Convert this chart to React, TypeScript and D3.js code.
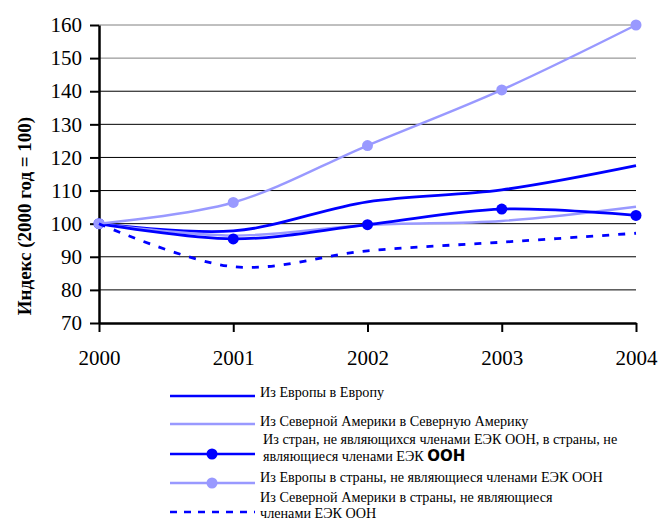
import { useEffect, useRef } from "react";
import * as d3 from "d3";

const years = [2000, 2001, 2002, 2003, 2004];
const yTicks = [70, 80, 90, 100, 110, 120, 130, 140, 150, 160];

const europeToEurope = [100, 97.8, 106.6, 110.2, 117.5];
const naToNa = [100, 96.4, 99.6, 100.8, 105.1];
const nonToNon = [100, 95.4, 99.7, 104.4, 102.5];
const europeToNon = [100, 106.4, 123.6, 140.4, 160];
const naToNon = [100, 87.0, 91.8, 94.4, 97.1];

const DARK = "#0000FF";
const LIGHT = "#9999FF";
const SERIF = "'Liberation Serif', 'DejaVu Serif', 'Times New Roman', Times, serif";

interface Series {
    values: number[];
    color: string;
    markers: boolean;
    dashed: boolean;
    legend: string[];
}

const series: Series[] = [
    { values: europeToEurope, color: DARK, markers: false, dashed: false, legend: ["Из Европы в Европу"] },
    { values: naToNa, color: LIGHT, markers: false, dashed: false, legend: ["Из Северной Америки в Северную Америку"] },
    {
        values: nonToNon,
        color: DARK,
        markers: true,
        dashed: false,
        legend: ["Из стран, не являющихся членами ЕЭК ООН, в страны, не", "являющиеся членами ЕЭК ООН"],
    },
    { values: europeToNon, color: LIGHT, markers: true, dashed: false, legend: ["Из Европы в страны, не являющиеся членами ЕЭК ООН"] },
    {
        values: naToNon,
        color: DARK,
        markers: false,
        dashed: true,
        legend: ["Из Северной Америки в страны, не являющиеся", "членами ЕЭК ООН"],
    },
];

const App = () => {
    const ref = useRef<SVGSVGElement>(null);

    useEffect(() => {
        const svg = d3.select(ref.current);
        svg.selectAll("*").remove();

        const x = d3.scalePoint<number>().domain(years).range([99, 636]);
        const y = d3.scaleLinear().domain([70, 160]).range([323, 25]);

        // gridlines
        svg.append("g")
            .selectAll("line")
            .data(yTicks.filter((t) => t > 70))
            .enter()
            .append("line")
            .attr("x1", 99)
            .attr("x2", 636)
            .attr("y1", (d) => y(d))
            .attr("y2", (d) => y(d))
            .attr("stroke", (d) => (d >= 150 ? "#808080" : "#000"))
            .attr("stroke-width", 1);

        // y axis
        const yAxis = svg
            .append("g")
            .attr("transform", "translate(99,0)")
            .call(d3.axisLeft(y).tickValues(yTicks).tickSize(9).tickSizeOuter(0).tickPadding(8));
        yAxis.attr("font-family", null).attr("font-size", 21);
        yAxis.select(".domain").attr("stroke", "#000").attr("stroke-width", 2.5);
        yAxis.selectAll(".tick line").attr("stroke", "#000").attr("stroke-width", 2);
        yAxis.selectAll(".tick text").style("font-family", SERIF).attr("fill", "#000");

        // x axis
        const xAxis = svg
            .append("g")
            .attr("transform", "translate(0,323)")
            .call(d3.axisBottom(x).tickSize(9).tickSizeOuter(0));
        xAxis.attr("font-family", null).attr("font-size", 21);
        xAxis.select(".domain").attr("stroke", "#000").attr("stroke-width", 2.5);
        xAxis.selectAll(".tick line").attr("stroke", "#000").attr("stroke-width", 2);
        xAxis
            .selectAll(".tick text")
            .style("font-family", SERIF)
            .attr("fill", "#000")
            .attr("y", 42)
            .attr("dy", null);

        // y title
        svg.append("text")
            .attr("transform", "translate(31,216) rotate(-90)")
            .attr("text-anchor", "middle")
            .style("font-family", SERIF)
            .attr("font-weight", "bold")
            .attr("font-size", 19)
            .text("Индекс (2000 год = 100)");

        const line = d3
            .line<number>()
            .x((_, i) => x(years[i]) as number)
            .y((d) => y(d))
            .curve(d3.curveCatmullRom.alpha(0.5));

        series.forEach((s) => {
            svg.append("path")
                .attr("d", line(s.values))
                .attr("fill", "none")
                .attr("stroke", s.color)
                .attr("stroke-width", s.color === DARK ? 2.8 : 2.4)
                .attr("stroke-dasharray", s.dashed ? "7,9" : null);
            if (s.markers) {
                svg.append("g")
                    .selectAll("circle")
                    .data(s.values)
                    .enter()
                    .append("circle")
                    .attr("cx", (_, i) => x(years[i]) as number)
                    .attr("cy", (d) => y(d))
                    .attr("r", 5.5)
                    .attr("fill", s.color);
            }
        });

        // legend
        const legendY = [396, 424, 454, 483, 512];
        const textY = [[397], [426], [444, 461], [482], [502, 518]];
        series.forEach((s, i) => {
            const g = svg.append("g");
            g.append("line")
                .attr("x1", 170)
                .attr("x2", 255)
                .attr("y1", legendY[i])
                .attr("y2", legendY[i])
                .attr("stroke", s.color)
                .attr("stroke-width", 2.5)
                .attr("stroke-dasharray", s.dashed ? "7,7" : null);
            if (s.markers) {
                g.append("circle").attr("cx", 212).attr("cy", legendY[i]).attr("r", 5.5).attr("fill", s.color);
            }
            s.legend.forEach((t, j) => {
                const txt = g
                    .append("text")
                    .attr("x", i === 2 ? 263 : 260)
                    .attr("y", textY[i][j])
                    .style("font-family", SERIF)
                    .attr("font-size", 14.2)
                    .attr("fill", "#000");
                if (i === 2 && j === 1) {
                    txt.append("tspan").text("являющиеся членами ЕЭК ");
                    txt.append("tspan")
                        .attr("font-weight", "bold")
                        .style("font-family", "'DejaVu Sans', sans-serif")
                        .attr("font-size", 15)
                        .text("ООН");
                } else {
                    txt.text(t);
                }
            });
        });
    }, []);

    return (
        <svg
            ref={ref}
            width={660}
            height={521}
            style={{ position: "absolute", left: 0, top: 0, background: "#fff" }}
        ></svg>
    );
};

export default App;
